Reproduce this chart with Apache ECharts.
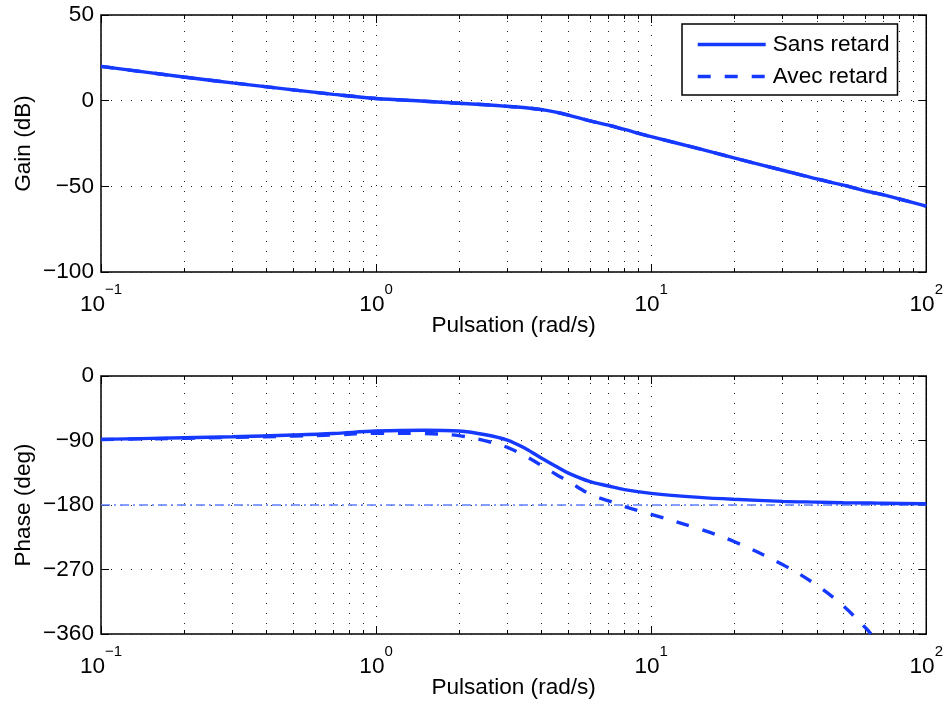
<!DOCTYPE html>
<html>
<head>
<meta charset="utf-8">
<script src="https://cdn.jsdelivr.net/npm/echarts@6/dist/echarts.min.js"></script>
<style>
html,body{margin:0;padding:0;background:#fff;}
#chart{width:946px;height:704px;}
</style>
</head>
<body>
<div id="chart"></div>
<script>
// ---- data ----
const freq       = [0.1, 0.2, 0.3, 0.5, 0.7, 1, 1.5, 2, 2.5, 3, 3.5, 4, 4.5, 5, 6, 7, 8, 10, 15, 20, 30, 40, 50, 60, 63, 70, 100];
const gainDb     = [20, 13.8, 10.4, 6.3, 3.7, 1.3, -0.3, -1.5, -2.4, -3.3, -4.1, -5.2, -6.7, -8.4, -11.8, -14.3, -16.8, -21.0, -28.1, -33.4, -40.6, -45.7, -49.3, -52.6, -53.4, -55.0, -61.6];
const phaseSans  = [-88.4, -86.2, -84.8, -82.3, -80.2, -76.8, -75.6, -76.8, -82.0, -89.5, -101.5, -114.8, -126.0, -135.5, -147.4, -153.5, -158.5, -163.7, -169.3, -172.0, -174.9, -176.0, -176.8, -177.2, -177.3, -177.5, -178.3];
const phaseAvec  = [-88.7, -86.8, -85.7, -83.8, -82.3, -79.8, -80.3, -83.2, -90.5, -99.5, -112.0, -125.0, -137.0, -147.0, -165.0, -174.2, -182.0, -193.0, -213.5, -231.0, -263.0, -292.0, -321.0, -351.0, -360.0, null, null];
const phaseRefLine = [[0.1, -180], [100, -180]];

const seriesNames   = ['Sans retard', 'Avec retard'];
const gainTicks     = {min: -100, max: 50, interval: 50};
const phaseTicks    = {min: -360, max: 0, interval: 90};
const freqRange     = {min: 0.1, max: 100};
const minorFreqTicks = [0.2, 0.3, 0.4, 0.5, 0.6, 0.7, 0.8, 0.9,
                        2, 3, 4, 5, 6, 7, 8, 9,
                        20, 30, 40, 50, 60, 70, 80, 90];
const xName = 'Pulsation (rad/s)';
const yNames = ['Gain (dB)', 'Phase (deg)'];

// ---- styles / layout ----
const FONT = '"Liberation Sans", Arial, Helvetica, sans-serif';
const BLUE = '#1539ff';
const REF_BLUE = '#5f7fff';
const FS = 22.6;
const LW = 3.4;
const grids = [
  {left: 101, top: 15, width: 827, height: 257},
  {left: 101, top: 376, width: 827, height: 258}
];
const dotted = {color: '#222', width: 1, type: [1, 9]};
const MINOR_LEN = 4;

const pts = (ys) => freq.map((f, i) => [f, ys[i]]);
const minus = (s) => String(s).replace('-', '\u2212');
const tickStyle = {show: true, inside: true, length: 8, lineStyle: {color: '#000', width: 1}};

function xAxes(gi) {
  const base = {
    gridIndex: gi, type: 'log', logBase: 10,
    min: freqRange.min, max: freqRange.max, splitNumber: 3
  };
  return [
    Object.assign({}, base, {
      position: 'bottom',
      axisLine: {show: false, onZero: false},
      axisTick: tickStyle,
      splitLine: {show: true, lineStyle: dotted},
      axisLabel: {
        margin: 10, showMinLabel: true, showMaxLabel: true,
        formatter: function (v) {
          const e = Math.round(Math.log10(v));
          return '{b|10}{s|' + minus(e) + '}';
        },
        rich: {
          b: {fontSize: FS, fontFamily: FONT, color: '#000', lineHeight: 34, verticalAlign: 'bottom'},
          s: {fontSize: 15, fontFamily: FONT, color: '#000', lineHeight: 12, verticalAlign: 'top'}
        }
      },
      name: xName, nameLocation: 'middle', nameGap: 42, nameMoveOverlap: false,
      nameTextStyle: {fontSize: FS, fontFamily: FONT, color: '#000', verticalAlign: 'top'}
    }),
    Object.assign({}, base, {
      position: 'top',
      axisLine: {show: false, onZero: false},
      axisTick: tickStyle,
      splitLine: {show: false},
      axisLabel: {show: false}
    })
  ];
}

function yAxes(gi, t, name) {
  const base = {gridIndex: gi, type: 'value', min: t.min, max: t.max, interval: t.interval};
  return [
    Object.assign({}, base, {
      position: 'left',
      axisLine: {show: false, onZero: false},
      axisTick: tickStyle,
      splitLine: {show: true, lineStyle: dotted},
      axisLabel: {margin: 7, fontSize: FS, fontFamily: FONT, color: '#000', formatter: (v) => minus(v)},
      name: name, nameLocation: 'middle', nameGap: 66, nameRotate: 90, nameMoveOverlap: false,
      nameTextStyle: {fontSize: FS, fontFamily: FONT, color: '#000'}
    }),
    Object.assign({}, base, {
      position: 'right',
      axisLine: {show: false, onZero: false},
      axisTick: tickStyle,
      splitLine: {show: false},
      axisLabel: {show: false}
    })
  ];
}

// grid decorations (minor grid lines + minor ticks) via markLine in data space
function minorMarks(t, gridH) {
  const d = (t.max - t.min) * MINOR_LEN / gridH;
  const lines = [];
  minorFreqTicks.forEach(v => {
    lines.push({xAxis: v, lineStyle: dotted});
  });
  minorFreqTicks.forEach(v => {
    lines.push([{coord: [v, t.min], lineStyle: {color: '#000', width: 1, type: 'solid'}}, {coord: [v, t.min + d]}]);
    lines.push([{coord: [v, t.max], lineStyle: {color: '#000', width: 1, type: 'solid'}}, {coord: [v, t.max - d]}]);
  });
  return lines;
}

function helper(gi, t) {
  return {
    type: 'line', name: 'grid' + gi, xAxisIndex: gi * 2, yAxisIndex: gi * 2,
    data: [], silent: true, z: 1,
    markLine: {
      silent: true, symbol: ['none', 'none'], animation: false, z: 1,
      label: {show: false}, emphasis: {disabled: true},
      lineStyle: dotted,
      data: minorMarks(t, grids[gi].height)
    }
  };
}

function curve(name, xi, yi, data, dashed) {
  return {
    type: 'line', name: name, xAxisIndex: xi, yAxisIndex: yi,
    data: data, showSymbol: false, symbol: 'none', smooth: 0.35, z: 3,
    connectNulls: false, clip: true,
    lineStyle: {color: BLUE, width: LW, type: dashed ? [13, 14] : 'solid'},
    itemStyle: {color: BLUE},
    emphasis: {disabled: true}
  };
}

const option = {
  animation: false,
  backgroundColor: '#fff',
  textStyle: {fontFamily: FONT},
  grid: grids.map(g => Object.assign({}, g, {
    show: true, borderColor: '#000', borderWidth: 1.5, backgroundColor: 'transparent', containLabel: false
  })),
  xAxis: xAxes(0).concat(xAxes(1)),
  yAxis: yAxes(0, gainTicks, yNames[0]).concat(yAxes(1, phaseTicks, yNames[1])),
  legend: {
    orient: 'vertical', left: 682, top: 24, padding: [9, 8, 7, 14],
    itemWidth: 68, itemHeight: 14, itemGap: 9,
    borderColor: '#000', borderWidth: 1.5, backgroundColor: '#fff', borderRadius: 0,
    itemStyle: {opacity: 0},
    lineStyle: {width: LW, color: BLUE},
    textStyle: {fontSize: FS, fontFamily: FONT, color: '#000', lineHeight: 22, padding: [0, 0, 0, 2]},
    data: seriesNames, selectedMode: false
  },
  series: [
    helper(0, gainTicks),
    helper(1, phaseTicks),
    curve(seriesNames[1], 0, 0, pts(gainDb), true),
    curve(seriesNames[0], 0, 0, pts(gainDb), false),
    {
      type: 'line', name: 'ref', xAxisIndex: 2, yAxisIndex: 2, data: phaseRefLine,
      showSymbol: false, symbol: 'none', z: 2, silent: true,
      lineStyle: {color: REF_BLUE, width: 1.5, type: [9, 4, 2, 4]}
    },
    curve(seriesNames[0], 2, 2, pts(phaseSans), false),
    curve(seriesNames[1], 2, 2, pts(phaseAvec), true)
  ]
};

const chart = echarts.init(document.getElementById('chart'), null, {renderer: 'canvas'});
chart.setOption(option);
</script>
</body>
</html>
